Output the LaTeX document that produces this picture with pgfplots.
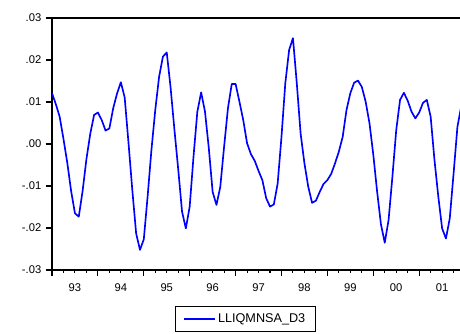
\documentclass[border=0pt]{standalone}
\usepackage{pgfplots}
\pgfplotsset{compat=1.18}
\usepackage{pgfplotstable}
\usepackage{fontspec}
\setmainfont{Liberation Sans}

% Monthly series, observation index 0 = 1993:01
\pgfplotstableread{
m v
0 0.0121
1 0.0095
2 0.0065
3 0.0012
4 -0.0045
5 -0.0112
6 -0.0165
7 -0.0173
8 -0.0112
9 -0.0036
10 0.0024
11 0.0069
12 0.0075
13 0.0057
14 0.0032
15 0.0037
16 0.0085
17 0.0120
18 0.0147
19 0.0111
20 0.0003
21 -0.0110
22 -0.0213
23 -0.0252
24 -0.0227
25 -0.0125
26 -0.0014
27 0.0081
28 0.0160
29 0.0208
30 0.0218
31 0.0135
32 0.0035
33 -0.0060
34 -0.0161
35 -0.0201
36 -0.0149
37 -0.0030
38 0.0077
39 0.0123
40 0.0077
41 -0.0010
42 -0.0114
43 -0.0145
44 -0.0102
45 -0.0006
46 0.0085
47 0.0143
48 0.0143
49 0.0101
50 0.0057
51 0.0002
52 -0.0024
53 -0.0040
54 -0.0064
55 -0.0086
56 -0.0129
57 -0.0149
58 -0.0144
59 -0.0094
60 0.0017
61 0.0145
62 0.0224
63 0.0252
64 0.0145
65 0.0025
66 -0.0046
67 -0.0102
68 -0.0140
69 -0.0135
70 -0.0114
71 -0.0095
72 -0.0086
73 -0.0071
74 -0.0046
75 -0.0018
76 0.0017
77 0.0081
78 0.0121
79 0.0146
80 0.0151
81 0.0136
82 0.0101
83 0.0050
84 -0.0025
85 -0.0113
86 -0.0191
87 -0.0235
88 -0.0181
89 -0.0078
90 0.0033
91 0.0105
92 0.0122
93 0.0103
94 0.0077
95 0.0061
96 0.0075
97 0.0098
98 0.0105
99 0.0065
100 -0.0038
101 -0.0125
102 -0.0201
103 -0.0225
104 -0.0177
105 -0.0070
106 0.0041
107 0.0090
}\lliq

\begin{document}
\begin{tikzpicture}
\useasboundingbox (0,0) rectangle (345pt,250.5pt);
\begin{axis}[
  at={(39pt,48pt)}, anchor=south west,
  scale only axis, width=309.8pt, height=189pt,
  xmin=0, xmax=108, ymin=-0.03, ymax=0.03,
  axis line style={line width=1pt, black},
  tick pos=left, tick align=outside,
  xtick={0,12,24,36,48,60,72,84,96},
  xticklabels={93,94,95,96,97,98,99,00,01},
  minor xtick={3,6,9,15,18,21,27,30,33,39,42,45,51,54,57,63,66,69,75,78,81,87,90,93,99,102,105},
  major tick length=4.5pt, minor tick length=2pt,
  every tick/.style={black, line width=0.8pt},
  xticklabel style={xshift=17.2pt, yshift=-2pt},
  ytick={-0.03,-0.02,-0.01,0,0.01,0.02,0.03},
  yticklabels={-.03,-.02,-.01,.00,.01,.02,.03},
  scaled y ticks=false,
  tick label style={font=\fontsize{8.4}{10}\selectfont, black},
  legend style={at={(0.4684,-0.195)}, anchor=center, draw=black, line width=0.6pt,
    font=\fontsize{9.5}{11}\selectfont, inner xsep=5.5pt, inner ysep=3.5pt},
  legend image code/.code={\draw[#1] (0pt,0pt) -- (23pt,0pt);},
]
\addplot[blue, line width=1.25pt, line join=round] table[x=m,y=v]{\lliq};
\addlegendentry{LLIQMNSA\_D3}
\end{axis}
\end{tikzpicture}
\end{document}
